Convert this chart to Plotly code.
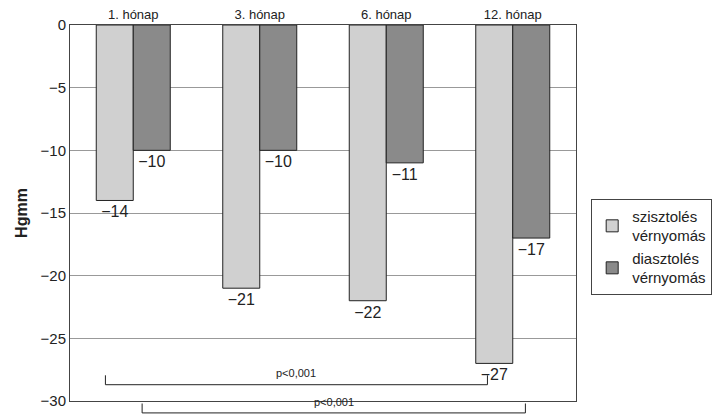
import plotly.graph_objects as go

categories = ["1. hónap", "3. hónap", "6. hónap", "12. hónap"]
systolic = [-14, -21, -22, -27]
diastolic = [-10, -10, -11, -17]
yticks = [0, -5, -10, -15, -20, -25, -30]

def lab(v):
    return "\u2212" + str(abs(v))

fig = go.Figure()
fig.add_bar(x=categories, y=systolic, name="szisztolés<br>vérnyomás",
            marker=dict(color="#d0d0d0", line=dict(color="#222", width=1)),
            text=[lab(v) for v in systolic], textposition="outside",
            textfont=dict(size=16, color="#222"), cliponaxis=False)
fig.add_bar(x=categories, y=diastolic, name="diasztolés<br>vérnyomás",
            marker=dict(color="#8a8a8a", line=dict(color="#222", width=1)),
            text=[lab(v) for v in diastolic], textposition="outside",
            textfont=dict(size=16, color="#222"), cliponaxis=False)

def py(v):
    return (v + 30) / 30

for (x0, x1, y, ty) in [(-0.22, 2.8, -28.7, -28.4), (0.07, 3.1, -30.95, -30.7)]:
    fig.add_shape(type="line", xref="x", yref="paper", x0=x0, x1=x1, y0=py(y), y1=py(y),
                  line=dict(color="#222", width=1))
    for xx in (x0, x1):
        fig.add_shape(type="line", xref="x", yref="paper", x0=xx, x1=xx, y0=py(y), y1=py(y + 0.75),
                      line=dict(color="#222", width=1))
    fig.add_annotation(x=(x0 + x1) / 2, y=py(ty), yref="paper", text="p<0,001", showarrow=False,
                       font=dict(size=11, color="#222"), yanchor="bottom")

fig.update_layout(
    width=725, height=415, barmode="group", bargap=0.415, bargroupgap=0,
    plot_bgcolor="white", paper_bgcolor="white",
    margin=dict(l=62, r=157, t=17, b=22),
    font=dict(family="Liberation Sans, Arial", color="#222"),
    showlegend=True,
    legend=dict(x=1.03, y=0.41, yanchor="middle", xanchor="left",
                bordercolor="#444", borderwidth=1, font=dict(size=15),
                tracegroupgap=20),
    xaxis=dict(side="top", tickfont=dict(size=13), showline=True, linecolor="#444",
               mirror=True, ticks="", automargin=False),
    yaxis=dict(range=[-30, 0], tickvals=yticks, ticktext=[("\u2212" + str(-v)) if v else "0" for v in yticks],
               tickfont=dict(size=15), showgrid=True, gridcolor="#999", zeroline=False,
               showline=True, linecolor="#444", mirror=True, automargin=False,
               title=dict(text="<b>Hgmm</b>", font=dict(size=16), standoff=8)),
)
fig.write_html("out.html")
